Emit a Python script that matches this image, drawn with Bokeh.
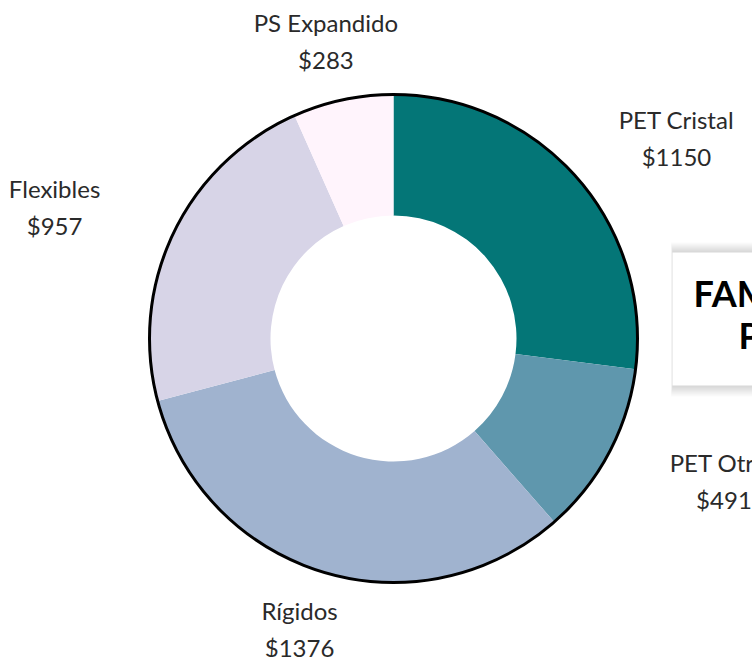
import math
from bokeh.plotting import figure
from bokeh.models import Range1d, ColumnDataSource
from bokeh.core.properties import value
from bokeh.embed import file_html
from bokeh.resources import INLINE

# ---- data ----
categories = ["PET Cristal", "PET Otros", "Rígidos", "Flexibles", "PS Expandido"]
values = [1150, 491, 1376, 957, 283]
colors = ["#047677", "#5f97ad", "#a0b3cf", "#d7d4e7", "#fff4fc"]
title_lines = ["FAMILIAS DE", "PLÁSTICO"]

# ---- layout ----
W, H = 752, 657
R_OUT, R_IN = 244, 123
LABEL_R = 304
FONT = "Lato"

total = sum(values)
starts, ends, mids = [], [], []
acc = 0.0
for v in values:
    a0 = math.pi / 2 - acc / total * 2 * math.pi
    acc += v
    a1 = math.pi / 2 - acc / total * 2 * math.pi
    starts.append(a0)
    ends.append(a1)
    mids.append((a0 + a1) / 2)

value_labels = ["$" + str(v) for v in values]
lx, ly_name, ly_val = [], [], []
for name, val, m in zip(categories, value_labels, mids):
    hw = max(len(name), len(val)) * 5.9
    c, s = math.cos(m), math.sin(m)
    x = c * (LABEL_R + hw * abs(c) * 1.5)
    y = s * LABEL_R
    lx.append(x)
    ly_name.append(y + 18.5)
    ly_val.append(y - 18.5)

src = ColumnDataSource(dict(start=starts, end=ends, color=colors,
                            lx=lx, lyn=ly_name, lyv=ly_val,
                            name=categories, val=value_labels))

p = figure(width=W, height=H, output_backend="svg", toolbar_location=None,
           x_range=Range1d(-393, 359), y_range=Range1d(-319, 338),
           min_border=0, outline_line_color=None)
p.axis.visible = False
p.grid.visible = False
p.background_fill_color = "white"
p.border_fill_color = "white"

p.annular_wedge(x=0, y=0, inner_radius=R_IN, outer_radius=R_OUT,
                start_angle="start", end_angle="end", direction="clock",
                fill_color="color", line_color=None, source=src)
p.circle(x=0, y=0, radius=R_OUT, fill_color=None, line_color="black", line_width=3)

p.text(x="lx", y="lyn", text="name", source=src, text_align="center",
       text_baseline="middle", text_font=value(FONT), text_font_size="24px",
       text_color="#2a2a2a")
p.text(x="lx", y="lyv", text="val", source=src, text_align="center",
       text_baseline="middle", text_font=value(FONT), text_font_size="24px",
       text_color="#2a2a2a")

# card with soft shadow
for k in range(10, 0, -1):
    p.quad(left=279 - k * 0.15, right=460, top=86 + k * 1.0, bottom=-47 - k * 1.1,
           fill_color="#000000", fill_alpha=0.016, line_color=None)
p.quad(left=279, right=460, top=86, bottom=-47, fill_color="white", line_color=None)
p.text(x=[300], y=[46], text=[title_lines[0]], text_font=value(FONT),
       text_font_size="36px", text_font_style="bold", text_color="black",
       text_baseline="middle")
p.text(x=[345], y=[4], text=[title_lines[1]], text_font=value(FONT),
       text_font_size="36px", text_font_style="bold", text_color="black",
       text_baseline="middle")

open("out.html", "w").write(file_html(p, INLINE))
